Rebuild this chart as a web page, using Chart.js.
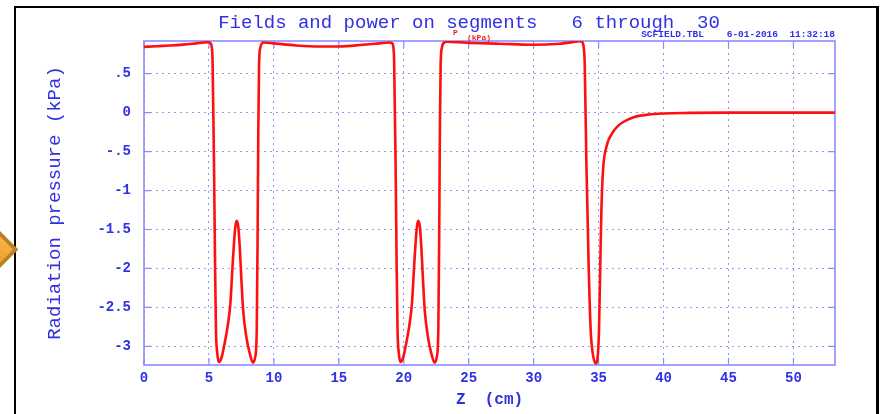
<!DOCTYPE html>
<html>
<head>
<meta charset="utf-8">
<title>Fields and power on segments 6 through 30</title>
<script src="https://cdn.jsdelivr.net/npm/chart.js@4/dist/chart.umd.min.js"></script>
<style>
  html, body { margin: 0; padding: 0; background: #fff; }
  #wrap { position: relative; width: 881px; height: 414px; overflow: hidden; background: #fff; }
  #c { position: absolute; left: 0; top: 0; }
  #frame {
    position: absolute; left: 14px; top: 6px; width: 860px; height: 430px;
    border-left: 2px solid #000; border-top: 2px solid #000; border-right: 3px solid #000;
  }
  #marker {
    position: absolute; left: -19px; top: 234px; width: 31px; height: 31px;
    box-sizing: border-box; transform: rotate(45deg);
    background: linear-gradient(135deg, #f7bb4e, #ea9c28);
    border: 4px solid #bf7f1e;
  }
</style>
</head>
<body>
<div id="wrap">
  <canvas id="c" width="881" height="414"></canvas>
  <div id="frame"></div>
  <div id="marker"></div>
</div>
<script>
// Axial position (cm) and radiation pressure (kPa) along segments 6..30
const Z_CM = [
  0, 1, 2, 3, 4, 4.6, 4.95, 5.12, 5.22, 5.28, 5.39, 5.47, 5.54, 5.64, 5.77, 5.96,
  6.21, 6.47, 6.65, 6.80, 6.91, 7.03, 7.14, 7.26, 7.37, 7.50, 7.63, 7.88, 8.14, 8.39,
  8.57, 8.68, 8.75, 8.80, 8.86, 8.96, 9.21, 9.93, 11.73, 13.5, 15.07, 16.86, 18.14,
  18.9, 19.1, 19.2, 19.26, 19.37, 19.45, 19.52, 19.62, 19.75, 19.94, 20.19, 20.45,
  20.63, 20.78, 20.89, 21.01, 21.12, 21.24, 21.35, 21.48, 21.61, 21.86, 22.12, 22.37,
  22.55, 22.66, 22.73, 22.78, 22.84, 22.94, 23.15, 23.3, 24.8, 27.4, 29.9, 32.0, 33.2,
  33.55, 33.75, 33.85, 33.93, 34.06, 34.23, 34.39, 34.55, 34.77, 34.95, 35.03, 35.13,
  35.21, 35.34, 35.6, 36.1, 36.5, 36.9, 37.7, 38.8, 40.0, 42.0, 45.0, 53.2
];
const P_KPA = [
  0.845, 0.853, 0.862, 0.874, 0.89, 0.90, 0.905, 0.89, 0.84, 0.65, -0.65, -1.94, -2.79, -3.09, -3.20, -3.15,
  -2.96, -2.71, -2.45, -2.02, -1.72, -1.47, -1.39, -1.47, -1.72, -2.15, -2.53, -2.88, -3.09, -3.21,
  -3.13, -2.79, -1.51, -0.23, 0.63, 0.84, 0.90, 0.89, 0.863, 0.85, 0.85, 0.872, 0.89,
  0.90, 0.89, 0.84, 0.65, -0.65, -1.94, -2.79, -3.09, -3.20, -3.15, -2.96, -2.71,
  -2.45, -2.02, -1.72, -1.47, -1.39, -1.47, -1.72, -2.15, -2.53, -2.88, -3.09, -3.21,
  -3.13, -2.79, -1.51, -0.23, 0.63, 0.84, 0.905, 0.912, 0.897, 0.885, 0.872, 0.885, 0.91,
  0.918, 0.905, 0.84, 0.63, -0.65, -1.94, -2.79, -3.09, -3.22, -3.09, -2.79, -1.94,
  -1.29, -0.74, -0.44, -0.25, -0.17, -0.12, -0.058, -0.025, -0.01, -0.003, 0, 0
];

const X_TICKS = [0, 5, 10, 15, 20, 25, 30, 35, 40, 45, 50];
const Y_TICKS = [0.5, 0, -0.5, -1, -1.5, -2, -2.5, -3];
const Y_TICK_LABELS = ['.5', '0', '-.5', '-1', '-1.5', '-2', '-2.5', '-3'];

const BLUE = '#3030e4';
const AXIS_BLUE = '#8c8cff';
const GRID_BLUE = 'rgba(130,130,235,0.85)';
const MONO = '"Liberation Mono", "DejaVu Sans Mono", monospace';

// Box around the plot, inward tick marks, heading and file stamp
const decorations = {
  id: 'decorations',
  beforeDraw(chart) {
    const ctx = chart.ctx;
    ctx.save();
    ctx.fillStyle = '#fff';
    ctx.fillRect(0, 0, chart.width, chart.height);
    ctx.restore();
  },
  beforeDatasetsDraw(chart) {
    const { ctx, chartArea: a, scales: { x, y } } = chart;
    ctx.save();
    ctx.strokeStyle = AXIS_BLUE;
    ctx.lineWidth = 1.6;
    ctx.strokeRect(a.left, a.top, a.right - a.left, a.bottom - a.top);
    ctx.lineWidth = 1.2;
    const tl = 7;
    ctx.beginPath();
    X_TICKS.forEach(v => {
      const px = x.getPixelForValue(v);
      ctx.moveTo(px, a.bottom); ctx.lineTo(px, a.bottom - tl);
      ctx.moveTo(px, a.top); ctx.lineTo(px, a.top + tl);
    });
    Y_TICKS.forEach(v => {
      const py = y.getPixelForValue(v);
      ctx.moveTo(a.left, py); ctx.lineTo(a.left + tl, py);
      ctx.moveTo(a.right, py); ctx.lineTo(a.right - tl, py);
    });
    ctx.stroke();
    ctx.restore();
  },
  afterDraw(chart) {
    const { ctx, chartArea: a } = chart;
    ctx.save();
    ctx.fillStyle = BLUE;
    ctx.textBaseline = 'middle';
    ctx.textAlign = 'center';
    ctx.font = '19px ' + MONO;
    ctx.fillText('Fields and power on segments   6 through  30', 469, 23);
    ctx.textAlign = 'right';
    ctx.font = 'bold 9.5px ' + MONO;
    ctx.fillText('SCFIELD.TBL    6-01-2016  11:32:18', a.right, 35);
    ctx.fillStyle = '#ff1a1a';
    ctx.textAlign = 'left';
    ctx.font = 'bold 8px ' + MONO;
    ctx.fillText('P', 453, 33);
    ctx.fillText('(kPa)', 467, 38);
    ctx.restore();
  }
};

new Chart(document.getElementById('c'), {
  type: 'line',
  data: {
    datasets: [{
      label: 'P (kPa)',
      data: Z_CM.map((z, i) => ({ x: z, y: P_KPA[i] })),
      borderColor: '#ff1010',
      borderWidth: 2.6,
      pointRadius: 0,
      cubicInterpolationMode: 'monotone',
      fill: false
    }]
  },
  options: {
    responsive: false,
    animation: false,
    events: [],
    layout: { padding: { left: 0, right: 46, top: 41, bottom: 0 } },
    plugins: { legend: { display: false }, title: { display: false }, tooltip: { enabled: false } },
    scales: {
      x: {
        type: 'linear',
        min: 0,
        max: 53.2,
        afterBuildTicks: s => { s.ticks = X_TICKS.map(v => ({ value: v })); },
        afterFit: s => { s.height = 49; },
        grid: { color: GRID_BLUE, lineWidth: 1, drawTicks: false },
        border: { display: false, dash: [2, 4] },
        ticks: {
          color: BLUE,
          padding: 5,
          maxRotation: 0,
          autoSkip: false,
          font: { family: MONO, size: 14, weight: 'bold' },
          callback: v => String(v)
        },
        title: {
          display: true,
          text: 'Z  (cm)',
          color: BLUE,
          padding: { top: 4.5, bottom: 4.5 },
          font: { family: MONO, size: 16, weight: 'bold' }
        }
      },
      y: {
        min: -3.24,
        max: 0.92,
        afterBuildTicks: s => { s.ticks = Y_TICKS.map(v => ({ value: v })); },
        afterFit: s => { s.width = 144; },
        grid: { color: GRID_BLUE, lineWidth: 1, drawTicks: false },
        border: { display: false, dash: [2, 4] },
        ticks: {
          color: BLUE,
          padding: 13,
          autoSkip: false,
          font: { family: MONO, size: 14, weight: 'bold' },
          callback: v => {
            const i = Y_TICKS.indexOf(v);
            return i >= 0 ? Y_TICK_LABELS[i] : '';
          }
        },
        title: {
          display: true,
          text: 'Radiation pressure (kPa)',
          color: BLUE,
          padding: { top: 43.5, bottom: 0 },
          font: { family: MONO, size: 19 }
        }
      }
    }
  },
  plugins: [decorations]
});
</script>
</body>
</html>
